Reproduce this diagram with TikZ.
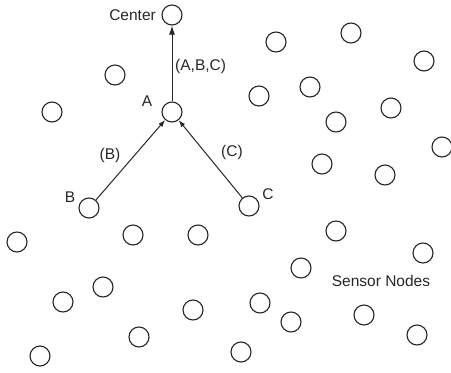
\documentclass[tikz,border=0pt]{standalone}
\usepackage{fontspec}
\setmainfont{Liberation Sans}
\usetikzlibrary{arrows.meta}
\begin{document}
\begin{tikzpicture}[x=1pt,y=-1pt,
  sensor/.style={circle,draw=black!85,line width=1.1pt,minimum size=20pt,inner sep=0pt},
  lbl/.style={font=\fontsize{15.5}{17}\selectfont,text=black!85,inner sep=0pt},
  link/.style={line width=1pt,draw=black!85}]
\useasboundingbox (0,0) rectangle (451,373);
% named nodes
\node[sensor] (center) at (172,15) {};
\node[sensor] (A) at (172,112) {};
\node[sensor] (B) at (89,208) {};
\node[sensor] (C) at (249,206) {};
% other sensors
\foreach \i/\x/\y in {1/115/75,2/52/112,3/276/42,4/351/33,5/424/61,6/259/96,7/310/87,8/391/108,9/336/122,10/442/147,11/322/164,12/385/175,13/17/242,14/133/235,15/198/235,16/103/287,17/63/302,18/193/310,19/139/337,20/40/356,21/336/231,22/423/253,23/301/268,24/260/303,25/291/322,26/364/315,27/417/335,28/241/352}
  \node[sensor] (s\i) at (\x,\y) {};
% links
\draw[link,-{Latex[length=9pt,width=6pt]}] (A) -- (center);
\draw[link,-{Latex[length=7pt,width=5pt]}] (B) -- (A);
\draw[link,-{Latex[length=7pt,width=5pt]}] (C) -- (A);
% labels
\node[lbl,anchor=east] (tcenter) at (156,15) {Center};
\node[lbl] (tA) at (147,101) {A};
\node[lbl,anchor=west] (tabc) at (175,66) {(A,B,C)};
\node[lbl] (tb) at (110,155) {(B)};
\node[lbl] (tc) at (232,152) {(C)};
\node[lbl] (tB) at (70,197) {B};
\node[lbl] (tC) at (268,194) {C};
\node[lbl] (tsn) at (381,281) {Sensor Nodes};
\end{tikzpicture}
\end{document}
